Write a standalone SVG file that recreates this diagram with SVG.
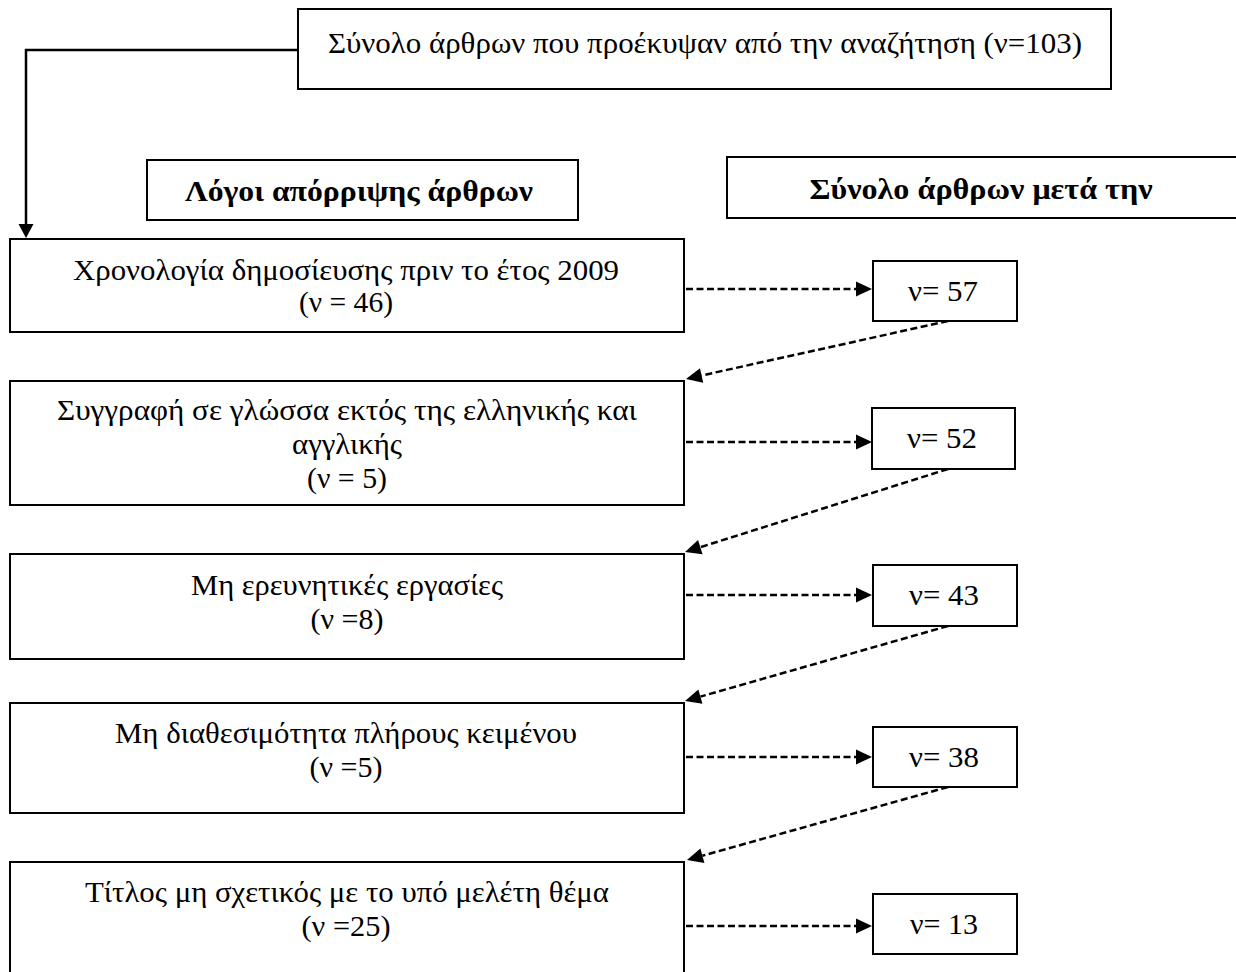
<svg xmlns="http://www.w3.org/2000/svg" width="1236" height="972" viewBox="0 0 1236 972">
  <defs>
    <style>
      .box { fill: #ffffff; stroke: #000000; stroke-width: 2; }
      .t { font-family: "Liberation Serif", "DejaVu Serif", serif; font-size: 30px; fill: #000000; text-anchor: middle; }
      .b { font-weight: bold; font-size: 29px; }
      .solid { fill: none; stroke: #000000; stroke-width: 2.5; }
      .dash { fill: none; stroke: #000000; stroke-width: 2.5; stroke-dasharray: 7 3.5; }
    </style>
    <marker id="ah" markerUnits="userSpaceOnUse" markerWidth="16" markerHeight="16" refX="0" refY="7.5" orient="auto" overflow="visible">
      <path d="M0,0 L16,7.5 L0,15 Z" fill="#000000"/>
    </marker>
    <marker id="ahs" markerUnits="userSpaceOnUse" markerWidth="15" markerHeight="16" refX="0" refY="7.5" orient="auto" overflow="visible">
      <path d="M0,0 L14,7.5 L0,15 Z" fill="#000000"/>
    </marker>
  </defs>

  <g id="connectors">
    <path class="solid" d="M298,50 H26 V224" marker-end="url(#ahs)"/>
    <path class="dash" d="M686,289 H856" marker-end="url(#ah)"/>
    <path class="dash" d="M686,442 H856" marker-end="url(#ah)"/>
    <path class="dash" d="M686,595 H856" marker-end="url(#ah)"/>
    <path class="dash" d="M686,757 H856" marker-end="url(#ah)"/>
    <path class="dash" d="M686,926 H856" marker-end="url(#ah)"/>
    <path class="dash" d="M948,321 L701.6,375.5" marker-end="url(#ah)"/>
    <path class="dash" d="M948,469 L700.3,547.2" marker-end="url(#ah)"/>
    <path class="dash" d="M948,626 L700.4,696.6" marker-end="url(#ah)"/>
    <path class="dash" d="M948,787 L702.4,855.7" marker-end="url(#ah)"/>
  </g>

  <g id="node-total">
    <rect class="box" x="298" y="9" width="813" height="80"/>
    <text class="t" x="705" y="53" textLength="754" lengthAdjust="spacingAndGlyphs">Σύνολο άρθρων που προέκυψαν από την αναζήτηση (ν=103)</text>
  </g>

  <g id="node-header-reasons">
    <rect class="box" x="147" y="160" width="431" height="60"/>
    <text class="t b" x="359" y="201" textLength="348" lengthAdjust="spacingAndGlyphs">Λόγοι απόρριψης άρθρων</text>
  </g>

  <g id="node-header-after">
    <rect class="box" x="727" y="157" width="520" height="61"/>
    <text class="t b" x="981" y="199" textLength="343" lengthAdjust="spacingAndGlyphs">Σύνολο άρθρων μετά την</text>
  </g>

  <g id="node-r1">
    <rect class="box" x="10" y="239" width="674" height="93"/>
    <text class="t" x="346" y="280" textLength="546" lengthAdjust="spacingAndGlyphs">Χρονολογία δημοσίευσης πριν το έτος 2009</text>
    <text class="t" x="346" y="312" textLength="94" lengthAdjust="spacingAndGlyphs">(ν = 46)</text>
  </g>

  <g id="node-r2">
    <rect class="box" x="10" y="381" width="674" height="124"/>
    <text class="t" x="347" y="420" textLength="580" lengthAdjust="spacingAndGlyphs">Συγγραφή σε γλώσσα εκτός της ελληνικής και</text>
    <text class="t" x="347" y="454" textLength="110" lengthAdjust="spacingAndGlyphs">αγγλικής</text>
    <text class="t" x="347" y="488" textLength="80" lengthAdjust="spacingAndGlyphs">(ν = 5)</text>
  </g>

  <g id="node-r3">
    <rect class="box" x="10" y="554" width="674" height="105"/>
    <text class="t" x="347" y="595" textLength="312" lengthAdjust="spacingAndGlyphs">Μη ερευνητικές εργασίες</text>
    <text class="t" x="347" y="629" textLength="73" lengthAdjust="spacingAndGlyphs">(ν =8)</text>
  </g>

  <g id="node-r4">
    <rect class="box" x="10" y="703" width="674" height="110"/>
    <text class="t" x="346" y="743" textLength="462" lengthAdjust="spacingAndGlyphs">Μη διαθεσιμότητα πλήρους κειμένου</text>
    <text class="t" x="346" y="777" textLength="73" lengthAdjust="spacingAndGlyphs">(ν =5)</text>
  </g>

  <g id="node-r5">
    <rect class="box" x="10" y="862" width="674" height="130"/>
    <text class="t" x="347" y="902" textLength="524" lengthAdjust="spacingAndGlyphs">Τίτλος μη σχετικός με το υπό μελέτη θέμα</text>
    <text class="t" x="346" y="936" textLength="89" lengthAdjust="spacingAndGlyphs">(ν =25)</text>
  </g>

  <g id="node-n57">
    <rect class="box" x="873" y="261" width="144" height="60"/>
    <text class="t" x="943" y="301" textLength="70" lengthAdjust="spacingAndGlyphs">ν= 57</text>
  </g>
  <g id="node-n52">
    <rect class="box" x="872" y="408" width="143" height="61"/>
    <text class="t" x="942" y="448" textLength="70" lengthAdjust="spacingAndGlyphs">ν= 52</text>
  </g>
  <g id="node-n43">
    <rect class="box" x="873" y="565" width="144" height="61"/>
    <text class="t" x="944" y="605" textLength="70" lengthAdjust="spacingAndGlyphs">ν= 43</text>
  </g>
  <g id="node-n38">
    <rect class="box" x="873" y="727" width="144" height="60"/>
    <text class="t" x="944" y="767" textLength="70" lengthAdjust="spacingAndGlyphs">ν= 38</text>
  </g>
  <g id="node-n13">
    <rect class="box" x="873" y="894" width="144" height="60"/>
    <text class="t" x="944" y="934" textLength="68" lengthAdjust="spacingAndGlyphs">ν= 13</text>
  </g>
</svg>
